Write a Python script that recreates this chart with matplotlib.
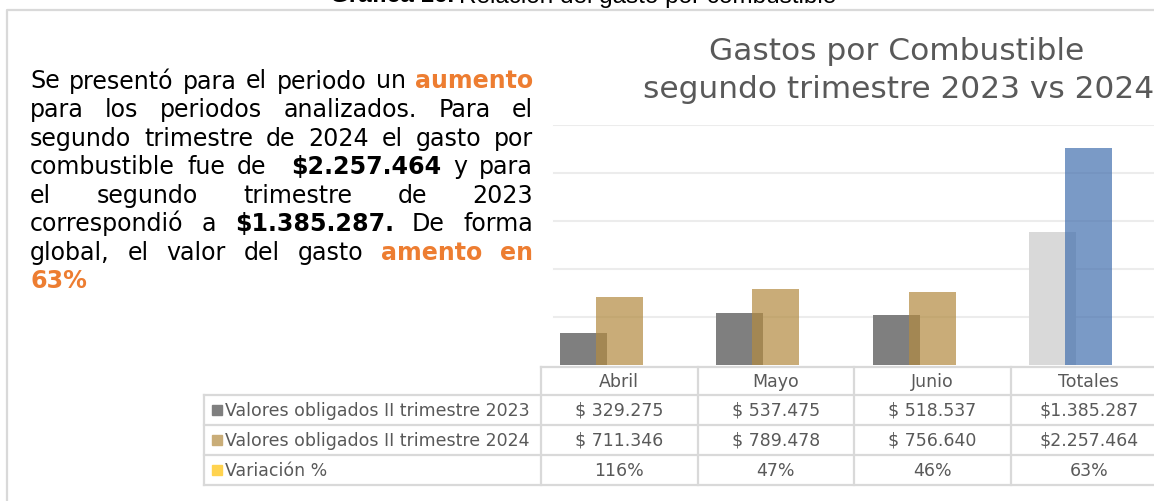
import matplotlib
matplotlib.use('Agg')
import matplotlib.pyplot as plt
from matplotlib import font_manager

# datos de la gráfica
meses = ['Abril', 'Mayo', 'Junio', 'Totales']
valores_2023 = [329275, 537475, 518537, 1385287]
valores_2024 = [711346, 789478, 756640, 2257464]
variacion = [1.16, 0.47, 0.46, 0.63]
series = ['Valores obligados II trimestre 2023',
          'Valores obligados II trimestre 2024',
          'Variación %']
tabla_2023 = ['$ 329.275', '$ 537.475', '$ 518.537', '$1.385.287']
tabla_2024 = ['$ 711.346', '$ 789.478', '$ 756.640', '$2.257.464']
tabla_var = ['116%', '47%', '46%', '63%']

# texto del párrafo: (palabra, negrita, naranja)
parrafo = [
    [('Se', 0, 0), ('presentó', 0, 0), ('para', 0, 0), ('el', 0, 0), ('periodo', 0, 0), ('un', 0, 0), ('aumento', 1, 1)],
    [('para', 0, 0), ('los', 0, 0), ('periodos', 0, 0), ('analizados.', 0, 0), ('Para', 0, 0), ('el', 0, 0)],
    [('segundo', 0, 0), ('trimestre', 0, 0), ('de', 0, 0), ('2024', 0, 0), ('el', 0, 0), ('gasto', 0, 0), ('por', 0, 0)],
    [('combustible', 0, 0), ('fue', 0, 0), ('de', 0, 0), ('', 0, 0), ('$2.257.464', 1, 0), ('y', 0, 0), ('para', 0, 0)],
    [('el', 0, 0), ('segundo', 0, 0), ('trimestre', 0, 0), ('de', 0, 0), ('2023', 0, 0)],
    [('correspondió', 0, 0), ('a', 0, 0), ('$1.385.287.', 1, 0), ('De', 0, 0), ('forma', 0, 0)],
    [('global,', 0, 0), ('el', 0, 0), ('valor', 0, 0), ('del', 0, 0), ('gasto', 0, 0), ('amento', 1, 1), ('en', 1, 1)],
    [('63%', 1, 1)],
]

W, H = 1154, 502
NARANJA = '#ed7d31'
GRIS_TXT = '#595959'
BORDE = '#d9d9d9'


def existe(nombre):
    try:
        font_manager.findfont(nombre, fallback_to_default=False)
        return True
    except Exception:
        return False


fuente_tabla = 'Liberation Sans Narrow' if existe('Liberation Sans Narrow') else 'DejaVu Sans'

fig = plt.figure(figsize=(W / 100, H / 100), dpi=100)
bg = fig.add_axes([0, 0, 1, 1], zorder=0)
bg.set_xlim(0, W)
bg.set_ylim(H, 0)
bg.axis('off')
renderer = fig.canvas.get_renderer()

# marco
bg.plot([7, 7, W], [H, 11, 11], color=BORDE, lw=1.6, solid_capstyle='butt')

# título superior (cortado en el borde)
t1 = bg.text(330, 2.5, 'Gráfica 16.', fontsize=17.5, fontweight='bold',
             family='Liberation Sans', va='baseline', ha='left', color='#000000')
w1 = t1.get_window_extent(renderer).width
bg.text(330 + w1 + 5, 2.5, 'Relación del gasto por combustible', fontsize=17.5,
        family='Liberation Sans', va='baseline', ha='left', color='#000000')

# párrafo justificado
x0, x1 = 30, 533
base0, paso = 88.5, 28.57
for i, linea in enumerate(parrafo):
    y = base0 + i * paso
    textos = []
    for palabra, negrita, naranja in linea:
        t = bg.text(0, y, palabra, fontsize=17.1, family='DejaVu Sans',
                    fontweight='bold' if negrita else 'normal',
                    color=NARANJA if naranja else '#000000',
                    va='baseline', ha='left')
        ancho = t.get_window_extent(renderer).width if palabra else 0
        textos.append((t, ancho))
    total = sum(a for _, a in textos)
    if len(textos) > 1:
        hueco = (x1 - x0 - total) / (len(textos) - 1)
    else:
        hueco = 0
    x = x0
    for t, ancho in textos:
        t.set_x(x)
        x += ancho + hueco

# gráfica de barras
izq, ancho_col = 541, 156.5
base_px, tope_px = 366, 126
ax = fig.add_axes([izq / W, 1 - base_px / H, 4 * ancho_col / W, (base_px - tope_px) / H], zorder=1)
ax.patch.set_alpha(0)
ax.set_xlim(-0.5, 3.5)
ax.set_ylim(0, 2500000)
for s in ax.spines.values():
    s.set_visible(False)
ax.set_xticks([])
ax.set_yticks([])
for v in [500000, 1000000, 1500000, 2000000, 2500000]:
    ax.axhline(v, xmin=13 / (4 * ancho_col), color='#ececec', lw=1.5, zorder=0)

pos = list(range(len(meses)))
col_2023 = ['#7f7f7f'] * 3 + ['#d9d9d9']
col_2024 = ['#b38b41'] * 3 + ['#4471af']
ax.bar([p - 0.23 for p in pos], valores_2023, width=0.3, color=col_2023, zorder=2)
ax.bar(pos, valores_2024, width=0.3, color=col_2024, alpha=0.71, zorder=3)
ax.bar([p + 0.23 for p in pos], variacion, width=0.3, color='#ffd34f', zorder=3)

# título de la gráfica
bg.text(897, 52, 'Gastos por Combustible', fontsize=22.5, color=GRIS_TXT,
        ha='center', va='center', family='DejaVu Sans')
bg.text(899, 89, 'segundo trimestre 2023 vs 2024', fontsize=22.5, color=GRIS_TXT,
        ha='center', va='center', family='DejaVu Sans')

# tabla de datos
filas_y = [368, 396, 426, 456, 486]
bg.plot([izq, W], [368, 368], color=BORDE, lw=1.6)
for y in filas_y[1:]:
    bg.plot([204, W], [y, y], color=BORDE, lw=1.6)
bg.plot([204, 204], [396, 486], color=BORDE, lw=1.6)
for i in range(4):
    xc = izq + i * ancho_col
    bg.plot([xc, xc], [368, 486], color=BORDE, lw=1.6)

fs_tab = 12.5
for i, mes in enumerate(meses):
    xc = izq + (i + 0.5) * ancho_col
    bg.text(xc, 382, mes, ha='center', va='center', fontsize=fs_tab,
            family=fuente_tabla, color=GRIS_TXT)
    for fila, y in zip([tabla_2023, tabla_2024, tabla_var], [411, 441, 471]):
        bg.text(xc, y, fila[i], ha='center', va='center', fontsize=fs_tab,
                family=fuente_tabla, color=GRIS_TXT)

claves = ['#7f7f7f', '#c9ad78', '#ffd34f']
for nombre, color, y in zip(series, claves, [411, 441, 471]):
    bg.add_patch(plt.Rectangle((212, y - 5), 9.5, 9.5, color=color))
    bg.text(225, y, nombre, ha='left', va='center', fontsize=fs_tab,
            family=fuente_tabla, color=GRIS_TXT)

fig.savefig('out.png', dpi=100)
